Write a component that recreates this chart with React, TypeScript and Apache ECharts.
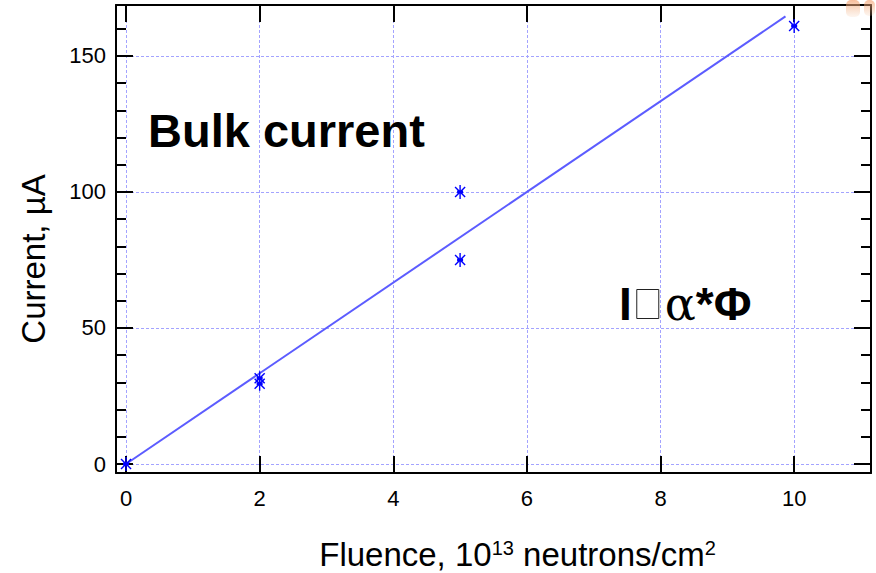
import React, { useEffect, useRef } from "react";
import * as echarts from "echarts";

// Measured data (fluence in 10^13 n/cm^2, current in µA)
const fluence = [0, 2, 2, 5, 5, 10];
const current = [0, 29.5, 31.5, 100, 75, 161];
// Linear fit line endpoints
const fitFluence = [0, 9.87];
const fitCurrent = [0, 164.5];
// Axis ranges
const xRange = [-0.15, 11.15];
const yRange = [-3.3, 168.7];
const xStep = 2;
const yStep = 50;

const FONT = "'Liberation Sans', Arial, Helvetica, sans-serif";
const GRID_COLOR = "#a3a3ff";

export default function App() {
  const ref = useRef<HTMLDivElement>(null);
  useEffect(() => {
    if (!ref.current) return;
    const chart = echarts.init(ref.current, null, { renderer: "svg" });

    const scatterData = fluence.map((f, i) => [f, current[i]]);
    const fitData = fitFluence.map((f, i) => [f, fitCurrent[i]]);

    const baseX = {
      type: "value" as const,
      min: xRange[0],
      max: xRange[1],
      minInterval: xStep,
      maxInterval: xStep,
      splitNumber: 5,
      axisLine: { show: true, onZero: false, lineStyle: { color: "#000", width: 2 } },
      axisTick: { show: true, inside: true, length: 17, lineStyle: { color: "#000", width: 2 } },
    };
    const baseY = {
      type: "value" as const,
      min: yRange[0],
      max: yRange[1],
      minInterval: yStep,
      maxInterval: yStep,
      splitNumber: 4,
      axisLine: { show: true, onZero: false, lineStyle: { color: "#000", width: 2 } },
      axisTick: { show: true, inside: true, length: 17, lineStyle: { color: "#000", width: 2 } },
      minorTick: { show: true, splitNumber: 5, length: 10, lineStyle: { color: "#000", width: 2 } },
    };

    chart.setOption({
      animation: false,
      backgroundColor: "#fff",
      grid: { left: 116, right: 5, top: 5, bottom: 100, containLabel: false, outerBoundsMode: "none" },
      xAxis: [
        {
          ...baseX,
          position: "bottom",
          axisLabel: {
            show: true,
            color: "#000",
            fontSize: 22,
            fontFamily: FONT,
            margin: 14,
            showMinLabel: false,
            showMaxLabel: false,
          },
          splitLine: { show: true, lineStyle: { color: GRID_COLOR, width: 1, type: [3, 2] } },
          name: "Fluence, 10{sup|13} neutrons/cm{sup|2}",
          nameLocation: "middle",
          nameGap: 65,
          nameTextStyle: {
            color: "#000",
            fontSize: 33,
            fontFamily: FONT,
            padding: [0, 0, 0, 48],
            rich: {
              sup: { fontSize: 20, fontFamily: FONT, color: "#000", verticalAlign: "top", lineHeight: 12 },
            },
          },
        },
        {
          ...baseX,
          position: "top",
          axisLabel: { show: false },
          splitLine: { show: false },
        },
      ],
      yAxis: [
        {
          ...baseY,
          position: "left",
          axisLabel: {
            show: true,
            color: "#000",
            fontSize: 22,
            fontFamily: FONT,
            margin: 10,
            showMinLabel: false,
            showMaxLabel: false,
          },
          splitLine: { show: true, lineStyle: { color: GRID_COLOR, width: 1, type: [3, 2] } },
          name: "Current, µA",
          nameLocation: "middle",
          nameRotate: 90,
          nameGap: 66,
          nameTextStyle: { color: "#000", fontSize: 33, fontFamily: FONT, padding: [0, 40, 0, 0] },
        },
        {
          ...baseY,
          position: "right",
          axisLabel: { show: false },
          splitLine: { show: false },
        },
      ],
      series: [
        {
          type: "line",
          xAxisIndex: 0,
          yAxisIndex: 0,
          data: fitData,
          symbol: "none",
          lineStyle: { color: "#5c5cff", width: 2 },
          z: 3,
        },
        {
          type: "custom",
          xAxisIndex: 0,
          yAxisIndex: 0,
          data: scatterData,
          z: 4,
          renderItem: (params: any, api: any) => {
            const p = api.coord([api.value(0), api.value(1)]);
            const r = 7;
            const d = r * 0.72;
            const style = { stroke: "#0000ff", lineWidth: 1.4, fill: "none" };
            return {
              type: "group",
              children: [
                { type: "line", shape: { x1: p[0], y1: p[1] - r, x2: p[0], y2: p[1] + r }, style },
                { type: "line", shape: { x1: p[0] - d, y1: p[1] - d, x2: p[0] + d, y2: p[1] + d }, style },
                { type: "line", shape: { x1: p[0] - d, y1: p[1] + d, x2: p[0] + d, y2: p[1] - d }, style },
                { type: "line", shape: { x1: p[0] - 3, y1: p[1], x2: p[0] + 3, y2: p[1] }, style: { ...style, lineWidth: 3 } },
              ],
            };
          },
        },
      ],
      graphic: [
        {
          type: "text",
          left: 148,
          top: 107,
          style: {
            text: "Bulk current",
            fontSize: 47,
            fontWeight: "bold",
            fontFamily: FONT,
            fill: "#000",
          },
          z: 10,
        },
        {
          type: "text",
          left: 619,
          top: 281,
          style: {
            text: "{b|I}{gap| }{box| }{gap2| }{a|α}{b|*Φ}",
            fontFamily: FONT,
            fill: "#000",
            rich: {
              b: { fontSize: 46, lineHeight: 50, fontWeight: "bold", fontFamily: FONT, fill: "#000" },
              gap: { fontSize: 10, lineHeight: 50, width: 5 },
              gap2: { fontSize: 10, lineHeight: 50, width: 6 },
              box: {
                fontSize: 10,
                lineHeight: 50,
                width: 22,
                height: 29,
                borderColor: "#222",
                borderWidth: 1,
                verticalAlign: "middle",
              },
              a: { fontSize: 46, lineHeight: 50, fontFamily: "'DejaVu Serif', 'Liberation Serif', serif", fill: "#000" },
            },
          },
          z: 10,
        },
        {
          type: "rect",
          left: 846,
          top: 0,
          shape: { width: 14, height: 17, r: 5 },
          style: {
            fill: new echarts.graphic.LinearGradient(0, 0, 0, 1, [
              { offset: 0, color: "rgba(244,160,110,0.7)" },
              { offset: 1, color: "rgba(244,190,150,0.15)" },
            ]),
          },
          z: 20,
        },
        {
          type: "rect",
          left: 864,
          top: 0,
          shape: { width: 11, height: 16, r: 5 },
          style: {
            fill: new echarts.graphic.LinearGradient(0, 0, 0, 1, [
              { offset: 0, color: "rgba(244,160,110,0.65)" },
              { offset: 1, color: "rgba(244,190,150,0.15)" },
            ]),
          },
          z: 20,
        },
      ],
    });
    return () => chart.dispose();
  }, []);

  return (
    <div
      ref={ref}
      style={{ position: "fixed", left: 0, top: 0, width: 876, height: 573, background: "#fff" }}
    />
  );
}
